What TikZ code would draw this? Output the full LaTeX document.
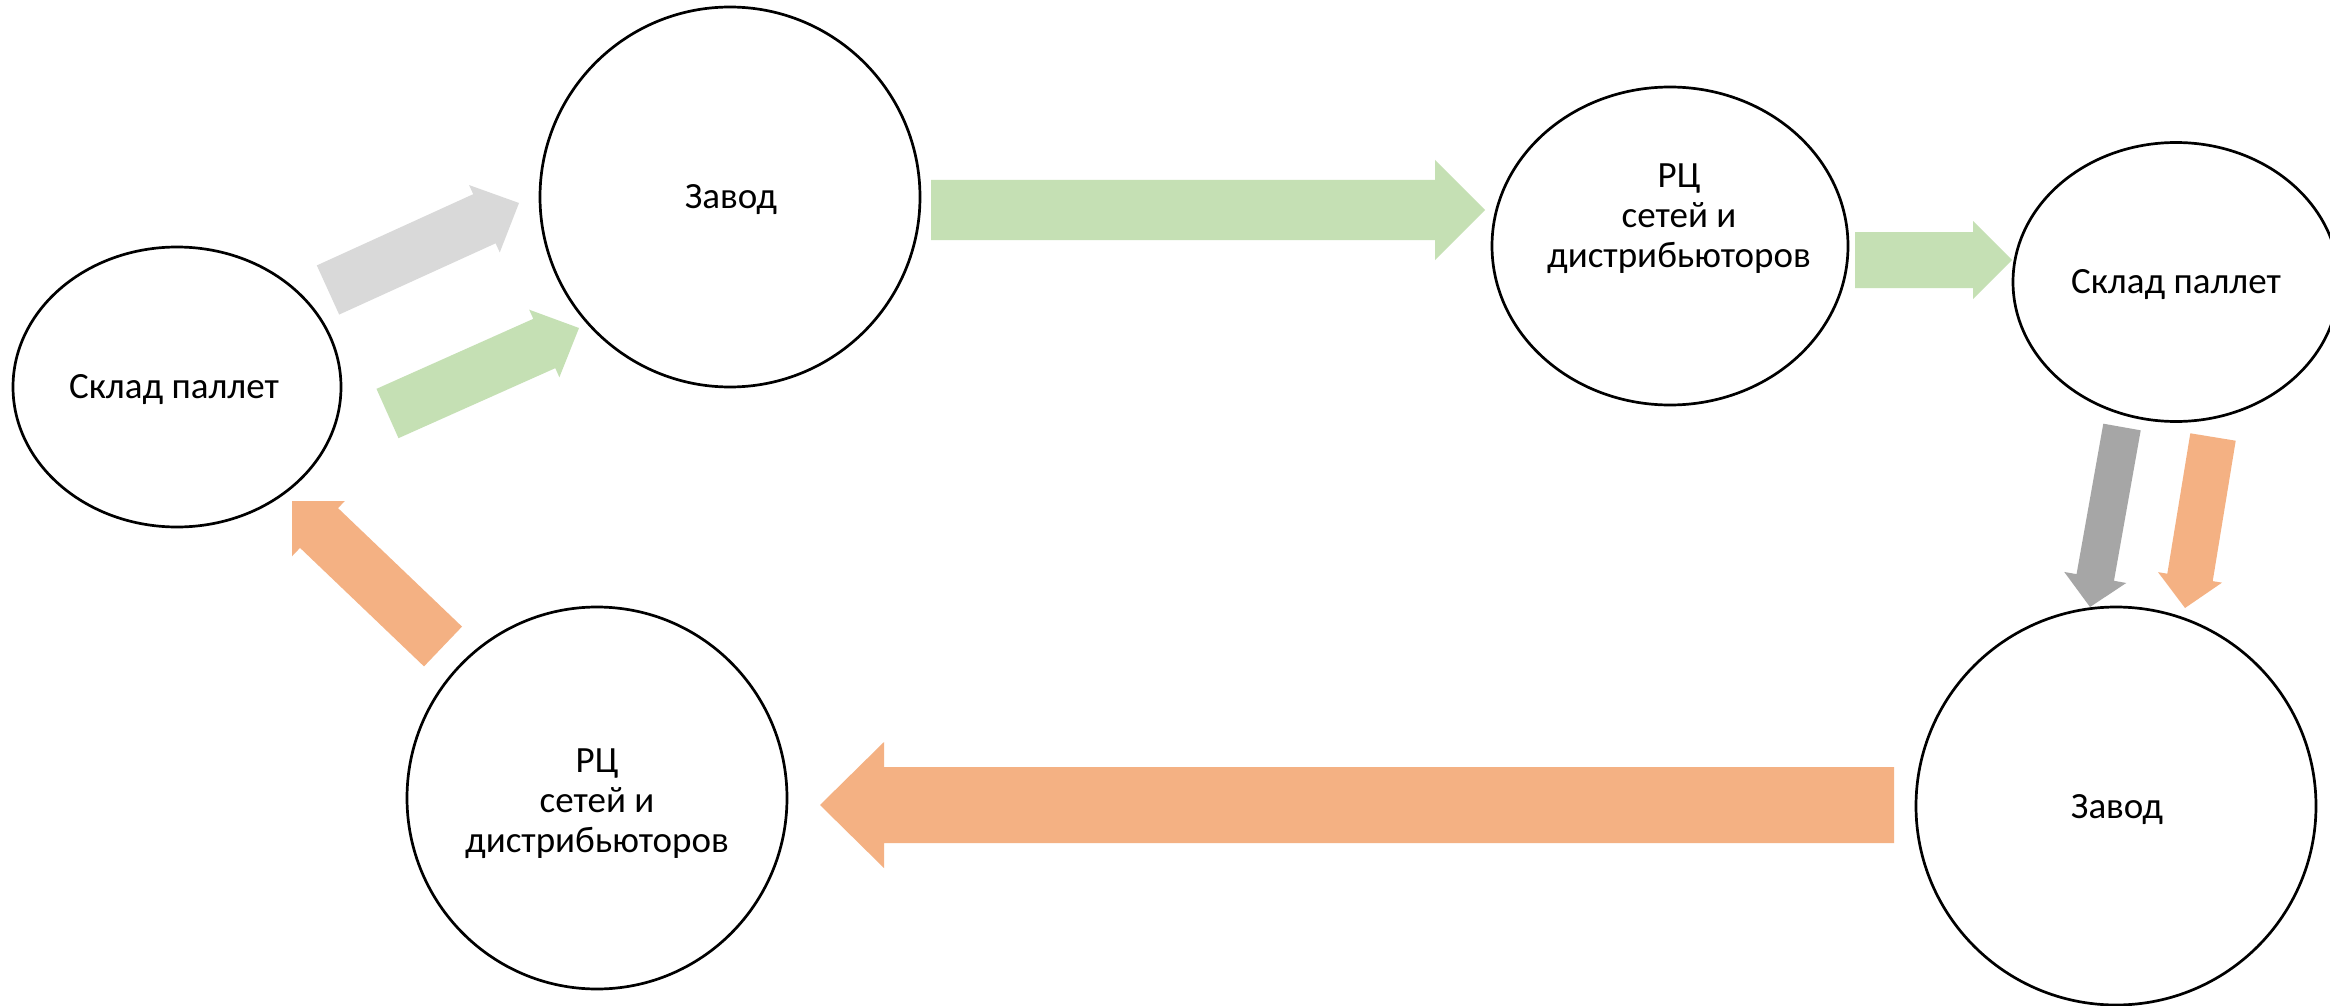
\documentclass[tikz,border=0pt]{standalone}
\usepackage{fontspec}
\setmainfont{Carlito}
\usetikzlibrary{shapes.geometric,calc}
\definecolor{lgray}{HTML}{D9D9D9}
\definecolor{dgray}{HTML}{A6A6A6}
\definecolor{lgreen}{HTML}{C5E0B4}
\definecolor{lorange}{HTML}{F4B183}
% #1 colour, #2 tail coordinate, #3 tip coordinate, #4 shaft half width, #5 head half width, #6 head length
\newcommand\blockarr[6]{%
  \coordinate (hb) at ($(#3)!#6!(#2)$);
  \fill[#1] ($(#2)!#4!90:(#3)$) -- ($(hb)!#4!90:(#3)$) -- ($(hb)!#5!90:(#3)$) -- (#3)
    -- ($(hb)!#5!-90:(#3)$) -- ($(hb)!#4!-90:(#3)$) -- ($(#2)!#4!-90:(#3)$) -- cycle;}
\begin{document}
\begin{tikzpicture}[x=1pt,y=-1pt,
  every node/.style={font=\fontsize{37}{40}\selectfont},
  place/.style={ellipse,draw,line width=2.7pt,inner sep=0pt},
  lbl/.style={anchor=base,align=center,inner sep=0pt}]
\useasboundingbox (0,0) rectangle (2330,1006);
\fill[white] (0,0) rectangle (2330,1006);

% places
\node[place,minimum width=328pt,minimum height=280pt] (skl1) at (177,387) {};
\node[place,minimum width=380pt,minimum height=380pt] (zav1) at (730,197) {};
\node[place,minimum width=356pt,minimum height=318pt] (rc1) at (1670,246) {};
\node[place,minimum width=326pt,minimum height=279pt] (skl2) at (2176,282) {};
\node[place,minimum width=400pt,minimum height=398pt] (zav2) at (2116,806) {};
\node[place,minimum width=380pt,minimum height=382pt] (rc2) at (597,798) {};

% labels (base anchor = baseline of the last line)
\node[lbl] (skl1t) at (174,398) {Склад паллет};
\node[lbl] (zav1t) at (731,208) {Завод};
\node[lbl] (rc1t) at (1679,267) {РЦ\\сетей и\\дистрибьюторов};
\node[lbl] (skl2t) at (2176,293) {Склад паллет};
\node[lbl] (zav2t) at (2117,818) {Завод};
\node[lbl] (rc2t) at (597,852) {РЦ\\сетей и\\дистрибьюторов};

% block arrows
\coordinate (a1s) at (328,290);   \coordinate (a1e) at (519,203);
\blockarr{lgray}{a1s}{a1e}{27pt}{37pt}{38pt}
\coordinate (a2s) at (387.5,413.5); \coordinate (a2e) at (579,328);
\blockarr{lgreen}{a2s}{a2e}{27pt}{37pt}{38pt}
\coordinate (a3s) at (931,210);   \coordinate (a3e) at (1485,210);
\blockarr{lgreen}{a3s}{a3e}{30pt}{50pt}{50pt}
\coordinate (a4s) at (1855,260);  \coordinate (a4e) at (2012,260);
\blockarr{lgreen}{a4s}{a4e}{28pt}{39pt}{39pt}
\coordinate (a5s) at (2122,427);  \coordinate (a5e) at (2090,607);
\blockarr{dgray}{a5s}{a5e}{19pt}{31.5pt}{30pt}
\coordinate (a6s) at (2213,437);  \coordinate (a6e) at (2185,608);
\blockarr{lorange}{a6s}{a6e}{23pt}{32.4pt}{31pt}
\coordinate (a7s) at (1894,805);  \coordinate (a7e) at (820,805);
\blockarr{lorange}{a7s}{a7e}{38pt}{63pt}{64pt}
\coordinate (a8s) at (443,646.5); \coordinate (a8e) at (286.5,496.9);
\begin{scope}
  \clip (292,501) rectangle (600,700);
  \blockarr{lorange}{a8s}{a8e}{27.5pt}{45pt}{45pt}
\end{scope}
\end{tikzpicture}
\end{document}
